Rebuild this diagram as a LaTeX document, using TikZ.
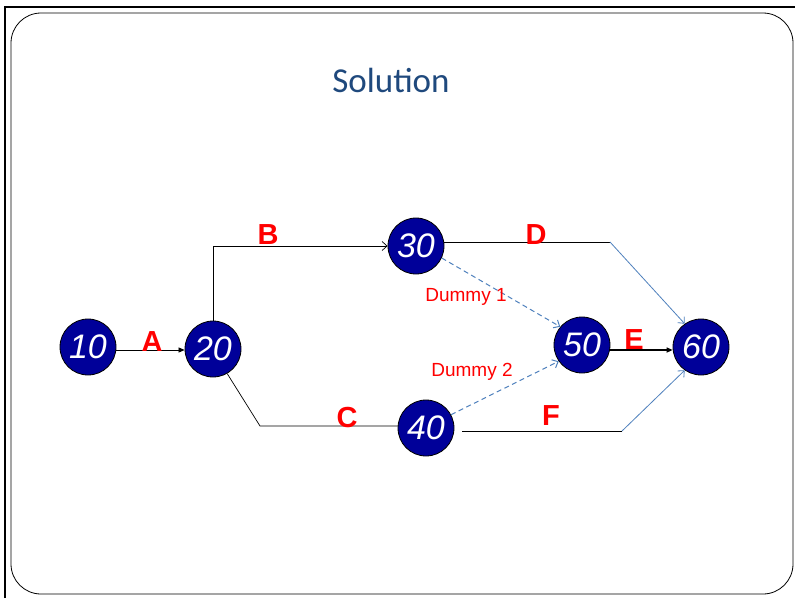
\documentclass[tikz,border=0pt]{standalone}
\usepackage{fontspec}
\setmainfont{Liberation Sans}
\newfontfamily\titlefont{Carlito}
\usetikzlibrary{arrows.meta}
\definecolor{nodeblue}{RGB}{0,0,153}
\definecolor{titleblue}{RGB}{31,73,125}
\definecolor{linkblue}{RGB}{79,129,189}
\definecolor{lblred}{RGB}{255,0,0}
\tikzset{
  evt/.style={circle, draw=black, line width=0.8pt, fill=nodeblue, minimum size=56pt, inner sep=0pt, text=white, font=\fontsize{34}{34}\selectfont\itshape},
  act/.style={text=lblred, font=\fontsize{29}{29}\selectfont\bfseries, inner sep=0pt},
  dlbl/.style={text=lblred, font=\fontsize{19}{19}\selectfont, inner sep=0pt},
  blk/.style={draw=black, line width=0.7pt},
  blu/.style={draw=linkblue, line width=0.8pt},
  dummyline/.style={draw=linkblue, line width=1pt, dash pattern=on 5pt off 3.5pt},
  opentip/.style={-{Straight Barb[length=5pt,width=9pt]}},
  filltip/.style={-{Triangle[length=6pt,width=5pt]}},
}
\begin{document}
\begin{tikzpicture}[x=1pt,y=-1pt]
\useasboundingbox (0,0) rectangle (795,598);
\fill[white] (0,0) rectangle (795,598);
% frames
\draw[line width=2pt] (5,598) -- (5,7) -- (795,7);
\draw[line width=0.8pt, rounded corners=30pt] (11,13) rectangle (793,594);
% title
\node[text=titleblue, font=\titlefont\fontsize{35}{35}\selectfont] (title) at (391,80) {Solution};
% events
\node[evt] (n10) at (88,347) {10};
\node[evt] (n20) at (213,349) {20};
\node[evt] (n30) at (416,246) {30};
\node[evt] (n40) at (426,428) {40};
\node[evt] (n50) at (582,345) {50};
\node[evt] (n60) at (701,347) {60};
% bends
\coordinate (bB) at (213,246);
\coordinate (bC) at (260,426);
\coordinate (bD) at (610,242);
\coordinate (bF) at (622,431);
% activities
\draw[blk, filltip] (n10.east |- 0,350) -- (n20.west |- 0,350);
\draw[blk, opentip] (n20.north) -- (bB) -- (n30.west);
\draw[blk] (n20.300) -- (bC) -- (n40.west |- 0,426);
\draw[blk] (n30.east |- 0,242) -- (bD);
\draw[blu, opentip] (bD) -- (n60.125);
\draw[blk] (n40.east |- 0,431) ++(8,0) -- (bF);
\draw[blu, opentip] (bF) -- (n60.235);
\draw[blk, line width=1.5pt, filltip] (n50.east |- 0,350) -- (n60.west |- 0,350);
\draw[dummyline, opentip] (n30.-25) -- (n50.140);
\draw[dummyline, opentip] (n40.28) -- (n50.215);
% labels
\node[act] (lA) at (152,342) {A};
\node[act] (lB) at (268,235) {B};
\node[act] (lC) at (347,418) {C};
\node[act] (lD) at (536,235) {D};
\node[act] (lE) at (634,340) {E};
\node[act] (lF) at (551,416) {F};
\node[dlbl] (d1) at (466,297) {Dummy 1};
\node[dlbl] (d2) at (472,372) {Dummy 2};
\end{tikzpicture}
\end{document}
